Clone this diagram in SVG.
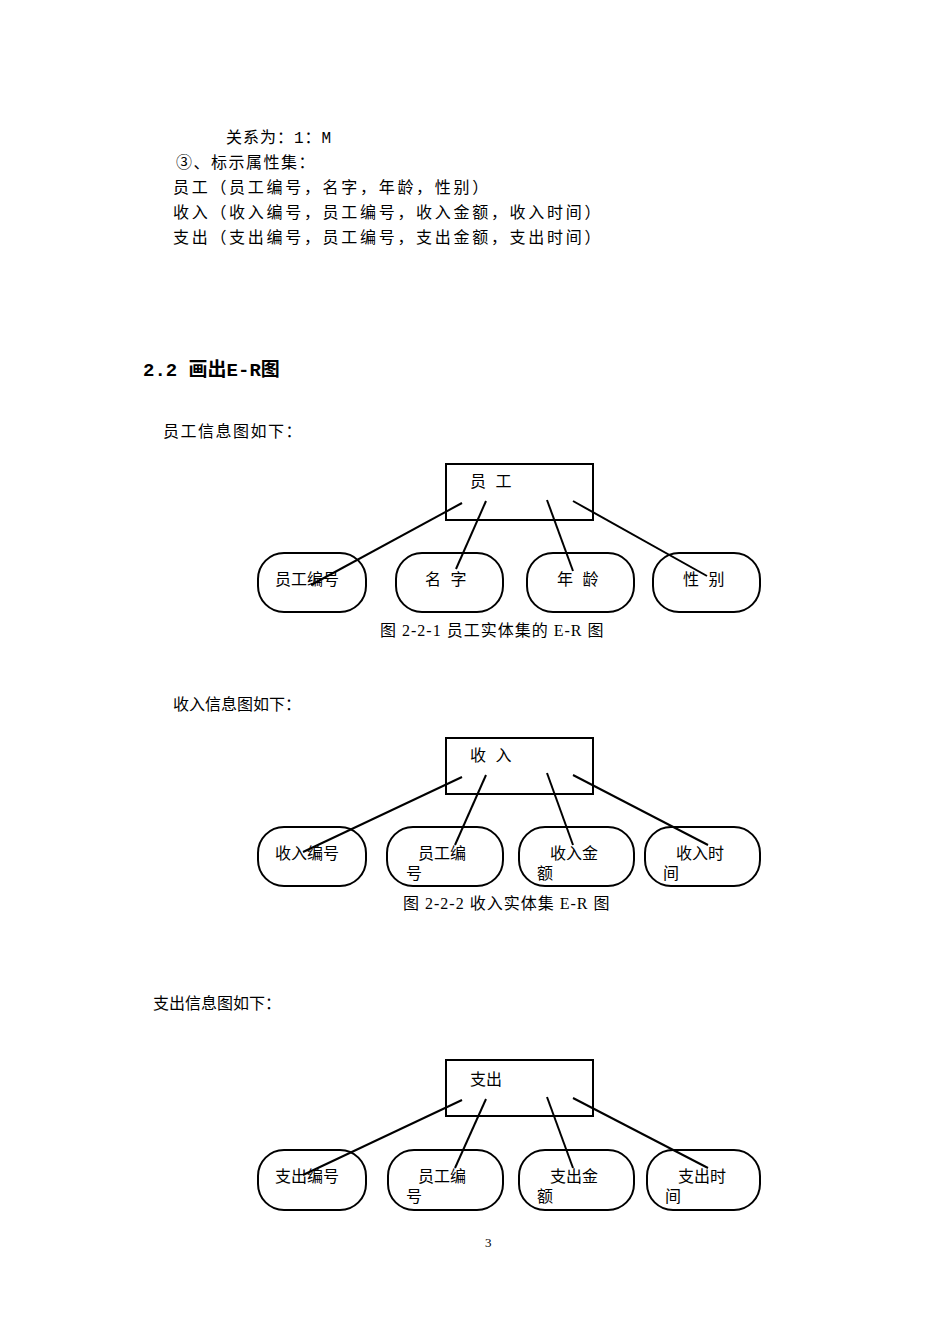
<svg xmlns="http://www.w3.org/2000/svg" width="950" height="1344" viewBox="0 0 950 1344">
<style>
text{font-family:"Liberation Mono","Noto Sans CJK SC",monospace;font-size:16px;fill:#000;font-feature-settings:"chws" 0,"halt" 0,"palt" 0;font-kerning:none}
.t{letter-spacing:2.7px}
.s{font-family:"Liberation Serif","Noto Sans CJK SC",serif;letter-spacing:1px}
.b{font-weight:bold;font-size:19px}
.e{fill:#fff;stroke:#000;stroke-width:2}
.c line{stroke:#000;stroke-width:2}
</style>
<rect width="950" height="1344" fill="#fff"/>
<text class="t" x="226" y="143" style="letter-spacing:1px">关系为：1：M</text>
<text class="t" x="176" y="168" style="letter-spacing:1.5px">③、标示属性集：</text>
<text class="t" x="173" y="193">员工（员工编号，名字，年龄，性别）</text>
<text class="t" x="173" y="218">收入（收入编号，员工编号，收入金额，收入时间）</text>
<text class="t" x="173" y="243">支出（支出编号，员工编号，支出金额，支出时间）</text>
<text class="b" x="143" y="376">2.2 画出E-R图</text>
<text x="163" y="437" style="letter-spacing:1.5px">员工信息图如下：</text>
<g id="d1">
<g id="n1"><rect class="e" x="446" y="464" width="147" height="56"/><text x="470" y="487">员 工</text></g>
<g id="n2"><rect class="e" x="258" y="553" width="108" height="59" rx="26"/><text x="275" y="585">员工编号</text></g>
<g id="n3"><rect class="e" x="396" y="553" width="107" height="59" rx="26"/><text x="425" y="585">名 字</text></g>
<g id="n4"><rect class="e" x="527" y="553" width="107" height="59" rx="26"/><text x="557" y="585">年 龄</text></g>
<g id="n5"><rect class="e" x="653" y="553" width="107" height="59" rx="26"/><text x="683" y="585">性 别</text></g>
<g class="c"><line x1="462" y1="503" x2="311" y2="585"/><line x1="486" y1="501" x2="456" y2="569"/><line x1="547" y1="500" x2="573" y2="571"/><line x1="573" y1="501" x2="707" y2="576"/></g>
<text class="s" x="380" y="636">图 2-2-1 员工实体集的 E-R 图</text>
</g>
<text x="173" y="710">收入信息图如下：</text>
<g id="d2">
<g id="m1"><rect class="e" x="446" y="738" width="147" height="56"/><text x="470" y="761">收 入</text></g>
<g id="m2"><rect class="e" x="258" y="827" width="108" height="59" rx="26"/><text x="275" y="859">收入编号</text></g>
<g id="m3"><rect class="e" x="387" y="827" width="116" height="59" rx="26"/><text x="418" y="859">员工编</text><text x="406" y="879">号</text></g>
<g id="m4"><rect class="e" x="519" y="827" width="115" height="59" rx="26"/><text x="550" y="859">收入金</text><text x="537" y="879">额</text></g>
<g id="m5"><rect class="e" x="645" y="827" width="115" height="59" rx="26"/><text x="676" y="859">收入时</text><text x="663" y="879">间</text></g>
<g class="c"><line x1="462" y1="777" x2="303" y2="852"/><line x1="486" y1="775" x2="455" y2="845"/><line x1="547" y1="773" x2="573" y2="845"/><line x1="573" y1="775" x2="708" y2="845"/></g>
<text class="s" x="403" y="909">图 2-2-2 收入实体集 E-R 图</text>
</g>
<text x="153" y="1009">支出信息图如下：</text>
<g id="d3">
<g id="k1"><rect class="e" x="446" y="1060" width="147" height="56"/><text x="470" y="1085">支出</text></g>
<g id="k2"><rect class="e" x="258" y="1150" width="108" height="60" rx="26"/><text x="275" y="1182">支出编号</text></g>
<g id="k3"><rect class="e" x="388" y="1150" width="115" height="60" rx="26"/><text x="418" y="1182">员工编</text><text x="406" y="1202">号</text></g>
<g id="k4"><rect class="e" x="519" y="1150" width="115" height="60" rx="26"/><text x="550" y="1182">支出金</text><text x="537" y="1202">额</text></g>
<g id="k5"><rect class="e" x="647" y="1150" width="113" height="60" rx="26"/><text x="678" y="1182">支出时</text><text x="665" y="1202">间</text></g>
<g class="c"><line x1="462" y1="1100" x2="303" y2="1175"/><line x1="486" y1="1099" x2="455" y2="1168"/><line x1="547" y1="1097" x2="573" y2="1168"/><line x1="573" y1="1098" x2="708" y2="1168"/></g>
</g>
<text x="485" y="1247" style="font-size:13px;font-family:'Liberation Serif',serif">3</text>
</svg>
